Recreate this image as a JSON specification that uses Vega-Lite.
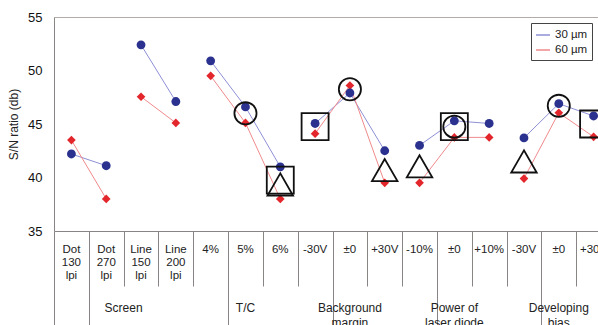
{
  "$schema": "https://vega.github.io/schema/vega-lite/v6.json",
  "autosize": {"type": "none"},
  "width": 544,
  "height": 214,
  "padding": {"left": 54, "top": 17, "right": 0, "bottom": 94},
  "background": "white",
  "config": {
    "view": {"stroke": null},
    "font": "Liberation Sans",
    "axis": {"grid": false, "labelFont": "Liberation Sans", "titleFont": "Liberation Sans", "labelColor": "#222", "titleColor": "#222"}
  },
  "datasets": {
    "sn": [
      {"factor": "Screen", "run": "Screen dot", "setting": "Screen: Dot 130 lpi", "size": "30 µm", "sn": 42.2},
      {"factor": "Screen", "run": "Screen dot", "setting": "Screen: Dot 270 lpi", "size": "30 µm", "sn": 41.1},
      {"factor": "Screen", "run": "Screen line", "setting": "Screen: Line 150 lpi", "size": "30 µm", "sn": 52.4},
      {"factor": "Screen", "run": "Screen line", "setting": "Screen: Line 200 lpi", "size": "30 µm", "sn": 47.1},
      {"factor": "T/C", "run": "T/C", "setting": "T/C: 4%", "size": "30 µm", "sn": 50.9},
      {"factor": "T/C", "run": "T/C", "setting": "T/C: 5%", "size": "30 µm", "sn": 46.6},
      {"factor": "T/C", "run": "T/C", "setting": "T/C: 6%", "size": "30 µm", "sn": 41.0},
      {"factor": "Background margin", "run": "Background margin", "setting": "Background margin: -30V", "size": "30 µm", "sn": 45.05},
      {"factor": "Background margin", "run": "Background margin", "setting": "Background margin: ±0", "size": "30 µm", "sn": 47.9},
      {"factor": "Background margin", "run": "Background margin", "setting": "Background margin: +30V", "size": "30 µm", "sn": 42.5},
      {"factor": "Power of laser diode", "run": "Power of laser diode", "setting": "Power of laser diode: -10%", "size": "30 µm", "sn": 43.0},
      {"factor": "Power of laser diode", "run": "Power of laser diode", "setting": "Power of laser diode: ±0", "size": "30 µm", "sn": 45.3},
      {"factor": "Power of laser diode", "run": "Power of laser diode", "setting": "Power of laser diode: +10%", "size": "30 µm", "sn": 45.05},
      {"factor": "Developing bias", "run": "Developing bias", "setting": "Developing bias: -30V", "size": "30 µm", "sn": 43.7},
      {"factor": "Developing bias", "run": "Developing bias", "setting": "Developing bias: ±0", "size": "30 µm", "sn": 46.9},
      {"factor": "Developing bias", "run": "Developing bias", "setting": "Developing bias: +30V", "size": "30 µm", "sn": 45.75},
      {"factor": "Screen", "run": "Screen dot", "setting": "Screen: Dot 130 lpi", "size": "60 µm", "sn": 43.5},
      {"factor": "Screen", "run": "Screen dot", "setting": "Screen: Dot 270 lpi", "size": "60 µm", "sn": 38.0},
      {"factor": "Screen", "run": "Screen line", "setting": "Screen: Line 150 lpi", "size": "60 µm", "sn": 47.55},
      {"factor": "Screen", "run": "Screen line", "setting": "Screen: Line 200 lpi", "size": "60 µm", "sn": 45.1},
      {"factor": "T/C", "run": "T/C", "setting": "T/C: 4%", "size": "60 µm", "sn": 49.5},
      {"factor": "T/C", "run": "T/C", "setting": "T/C: 5%", "size": "60 µm", "sn": 45.1},
      {"factor": "T/C", "run": "T/C", "setting": "T/C: 6%", "size": "60 µm", "sn": 38.0},
      {"factor": "Background margin", "run": "Background margin", "setting": "Background margin: -30V", "size": "60 µm", "sn": 44.1},
      {"factor": "Background margin", "run": "Background margin", "setting": "Background margin: ±0", "size": "60 µm", "sn": 48.6},
      {"factor": "Background margin", "run": "Background margin", "setting": "Background margin: +30V", "size": "60 µm", "sn": 39.5},
      {"factor": "Power of laser diode", "run": "Power of laser diode", "setting": "Power of laser diode: -10%", "size": "60 µm", "sn": 39.5},
      {"factor": "Power of laser diode", "run": "Power of laser diode", "setting": "Power of laser diode: ±0", "size": "60 µm", "sn": 43.75},
      {"factor": "Power of laser diode", "run": "Power of laser diode", "setting": "Power of laser diode: +10%", "size": "60 µm", "sn": 43.75},
      {"factor": "Developing bias", "run": "Developing bias", "setting": "Developing bias: -30V", "size": "60 µm", "sn": 39.9},
      {"factor": "Developing bias", "run": "Developing bias", "setting": "Developing bias: ±0", "size": "60 µm", "sn": 46.05},
      {"factor": "Developing bias", "run": "Developing bias", "setting": "Developing bias: +30V", "size": "60 µm", "sn": 43.8}
    ],
    "optimum": [
      {"setting": "T/C: 5%", "marker": "circle", "sn": 46.0},
      {"setting": "Background margin: ±0", "marker": "circle", "sn": 48.25},
      {"setting": "Power of laser diode: ±0", "marker": "circle", "sn": 44.75},
      {"setting": "Developing bias: ±0", "marker": "circle", "sn": 46.7},
      {"setting": "T/C: 6%", "marker": "square", "sn": 39.75},
      {"setting": "Background margin: -30V", "marker": "square", "sn": 44.75},
      {"setting": "Power of laser diode: ±0", "marker": "square", "sn": 44.75},
      {"setting": "Developing bias: +30V", "marker": "square", "sn": 45.0},
      {"setting": "T/C: 6%", "marker": "triangle", "sn": 39.35},
      {"setting": "Background margin: +30V", "marker": "triangle", "sn": 40.7},
      {"setting": "Power of laser diode: -10%", "marker": "triangle", "sn": 41.05},
      {"setting": "Developing bias: -30V", "marker": "triangle", "sn": 41.5}
    ]
  },
  "encoding": {
    "y": {
      "field": "sn", "type": "quantitative",
      "scale": {"domain": [35, 55], "nice": false, "zero": false},
      "axis": {
        "title": "S/N ratio (db)", "titleFontSize": 12, "titleFontWeight": "normal", "titlePadding": 7,
        "values": [35, 40, 45, 50, 55], "ticks": false, "labelFontSize": 13, "labelColor": "#111", "labelPadding": 12,
        "domainColor": "#8a8585"
      }
    }
  },
  "resolve": {"axis": {"x": "independent"}},
  "layer": [
    {
      "data": {"name": "sn"},
      "mark": {"type": "line", "strokeWidth": 1},
      "encoding": {
        "x": {
          "field": "setting", "type": "nominal",
          "scale": {"domain": ["Screen: Dot 130 lpi", "Screen: Dot 270 lpi", "Screen: Line 150 lpi", "Screen: Line 200 lpi", "T/C: 4%", "T/C: 5%", "T/C: 6%", "Background margin: -30V", "Background margin: ±0", "Background margin: +30V", "Power of laser diode: -10%", "Power of laser diode: ±0", "Power of laser diode: +10%", "Developing bias: -30V", "Developing bias: ±0", "Developing bias: +30V"], "range": [0, 557], "paddingInner": 0, "paddingOuter": 0},
          "axis": {
            "orient": "bottom", "title": null, "ticks": false, "domain": true, "domainColor": "#8a8585",
            "labelAngle": 0, "labelBaseline": "top", "labelFontSize": 11.5, "labelLineHeight": 13.3, "labelPadding": 12,
            "labelOverlap": false, "labelBound": false,
            "labelExpr": "split(slice(datum.label, indexof(datum.label, ': ') + 2), ' ')"
          }
        },
        "detail": {"field": "run"},
        "color": {"field": "size", "type": "nominal", "scale": {"domain": ["30 µm", "60 µm"], "range": ["#8e90d6", "#f08a8c"]},
          "legend": {"title": null, "orient": "top-right", "offset": 6, "fillColor": "white", "strokeColor": "#444", "padding": 4, "rowPadding": 1, "symbolType": "stroke", "symbolSize": 196, "symbolStrokeWidth": 1.5, "labelFontSize": 11.5, "labelColor": "#222", "labelFont": "Liberation Sans"}
        },
        "order": {"value": null}
      }
    },
    {
      "data": {"name": "sn"},
      "transform": [{"filter": "datum.size == '60 µm'"}],
      "mark": {"type": "point", "shape": "diamond", "filled": true, "opacity": 1, "color": "#e3262b", "size": 75},
      "encoding": {
        "x": {
          "field": "setting", "type": "nominal",
          "scale": {"domain": ["Screen: Dot 130 lpi", "Screen: Dot 270 lpi", "Screen: Line 150 lpi", "Screen: Line 200 lpi", "T/C: 4%", "T/C: 5%", "T/C: 6%", "Background margin: -30V", "Background margin: ±0", "Background margin: +30V", "Power of laser diode: -10%", "Power of laser diode: ±0", "Power of laser diode: +10%", "Developing bias: -30V", "Developing bias: ±0", "Developing bias: +30V"], "range": [0, 557], "paddingInner": 0, "paddingOuter": 0},
          "axis": {
            "orient": "bottom", "title": null, "domain": false, "labels": false, "ticks": true, "tickBand": "extent",
            "tickSize": 55, "tickColor": "#8a8585", "tickWidth": 1,
            "values": ["Screen: Dot 270 lpi", "Screen: Line 150 lpi", "Screen: Line 200 lpi", "T/C: 5%", "T/C: 6%", "Background margin: ±0", "Background margin: +30V", "Power of laser diode: ±0", "Power of laser diode: +10%", "Developing bias: ±0", "Developing bias: +30V"]
          }
        }
      }
    },
    {
      "data": {"name": "sn"},
      "transform": [{"filter": "datum.size == '30 µm'"}],
      "mark": {"type": "point", "shape": "circle", "filled": true, "opacity": 1, "color": "#2a318e", "size": 78},
      "encoding": {
        "x": {
          "field": "setting", "type": "nominal",
          "scale": {"domain": ["Screen: Dot 130 lpi", "Screen: Dot 270 lpi", "Screen: Line 150 lpi", "Screen: Line 200 lpi", "T/C: 4%", "T/C: 5%", "T/C: 6%", "Background margin: -30V", "Background margin: ±0", "Background margin: +30V", "Power of laser diode: -10%", "Power of laser diode: ±0", "Power of laser diode: +10%", "Developing bias: -30V", "Developing bias: ±0", "Developing bias: +30V"], "range": [0, 557], "paddingInner": 0, "paddingOuter": 0},
          "axis": {
            "orient": "bottom", "title": null, "domain": false, "labels": false, "ticks": true, "tickBand": "extent",
            "tickSize": 94, "tickColor": "#8a8585", "tickWidth": 1,
            "values": ["Screen: Dot 130 lpi", "T/C: 4%", "Background margin: -30V", "Power of laser diode: -10%", "Developing bias: -30V"]
          }
        }
      }
    },
    {
      "data": {"name": "optimum"},
      "transform": [{"filter": "datum.marker == 'circle'"}],
      "mark": {"type": "point", "shape": "circle", "filled": false, "stroke": "#111", "strokeWidth": 1.8, "opacity": 1, "size": 490},
      "encoding": {
        "x": {
          "field": "setting", "type": "nominal",
          "scale": {"domain": ["Screen: Dot 130 lpi", "Screen: Dot 270 lpi", "Screen: Line 150 lpi", "Screen: Line 200 lpi", "T/C: 4%", "T/C: 5%", "T/C: 6%", "Background margin: -30V", "Background margin: ±0", "Background margin: +30V", "Power of laser diode: -10%", "Power of laser diode: ±0", "Power of laser diode: +10%", "Developing bias: -30V", "Developing bias: ±0", "Developing bias: +30V"], "range": [0, 557], "paddingInner": 0, "paddingOuter": 0},
          "axis": {
            "orient": "bottom", "title": null, "domain": false, "ticks": false, "labelAngle": 0,
            "labelBaseline": "top", "labelFontSize": 12, "labelLineHeight": 15, "labelPadding": 71,
            "labelOverlap": false, "labelBound": false,
            "values": ["T/C: 5%", "Background margin: ±0", "Power of laser diode: ±0", "Developing bias: ±0"],
            "labelExpr": "datum.label == 'Power of laser diode: ±0' ? ['Power of', 'laser diode'] : split(slice(datum.label, 0, indexof(datum.label, ': ')), ' ')"
          }
        }
      }
    },
    {
      "data": {"name": "optimum"},
      "transform": [{"filter": "datum.marker == 'square'"}],
      "mark": {"type": "point", "shape": "square", "filled": false, "stroke": "#111", "strokeWidth": 1.8, "opacity": 1, "size": 729},
      "encoding": {
        "x": {
          "field": "setting", "type": "nominal",
          "scale": {"domain": ["Screen: Dot 130 lpi", "Screen: Dot 270 lpi", "Screen: Line 150 lpi", "Screen: Line 200 lpi", "T/C: 4%", "T/C: 5%", "T/C: 6%", "Background margin: -30V", "Background margin: ±0", "Background margin: +30V", "Power of laser diode: -10%", "Power of laser diode: ±0", "Power of laser diode: +10%", "Developing bias: -30V", "Developing bias: ±0", "Developing bias: +30V"], "range": [0, 557], "paddingInner": 0, "paddingOuter": 0},
          "axis": {
            "orient": "bottom", "title": null, "domain": false, "ticks": false, "labelAngle": 0, "labelOffset": -17.4,
            "labelBaseline": "top", "labelFontSize": 12, "labelLineHeight": 15, "labelPadding": 71,
            "labelOverlap": false, "labelBound": false,
            "values": ["Screen: Line 150 lpi"],
            "labelExpr": "'Screen'"
          }
        }
      }
    },
    {
      "data": {"name": "optimum"},
      "transform": [{"filter": "datum.marker == 'triangle'"}],
      "mark": {"type": "point", "shape": "triangle-up", "filled": false, "stroke": "#111", "strokeWidth": 1.8, "opacity": 1, "size": 650},
      "encoding": {
        "x": {
          "field": "setting", "type": "nominal",
          "scale": {"domain": ["Screen: Dot 130 lpi", "Screen: Dot 270 lpi", "Screen: Line 150 lpi", "Screen: Line 200 lpi", "T/C: 4%", "T/C: 5%", "T/C: 6%", "Background margin: -30V", "Background margin: ±0", "Background margin: +30V", "Power of laser diode: -10%", "Power of laser diode: ±0", "Power of laser diode: +10%", "Developing bias: -30V", "Developing bias: ±0", "Developing bias: +30V"], "range": [0, 557], "paddingInner": 0, "paddingOuter": 0},
          "axis": {"orient": "top", "title": null, "domain": true, "domainColor": "#b3aaaa", "ticks": false, "labels": false}
        }
      }
    }
  ]
}
